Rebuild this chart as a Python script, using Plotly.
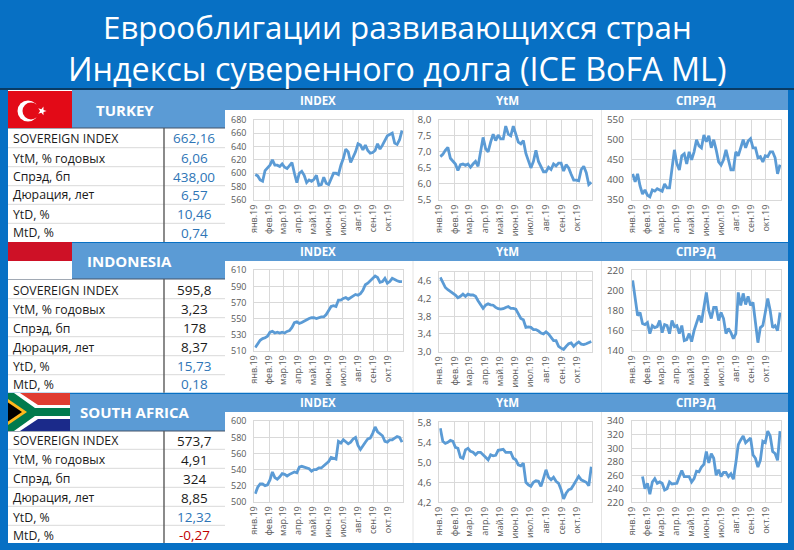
import math
import pandas as pd
import plotly.graph_objects as go

W, H = 794, 550
FONT = "Open Sans"
LINE = "#5b9bd5"
BAND = "#5b9bd5"
BG = "#0770c4"
GRID = "#d9d9d9"
TICK = "#595959"
VAL_BLUE = "#2e75b6"
RED = "#c00000"

dates = pd.date_range("2019-01-03", periods=61, freq="5D")
month_ticks = ["2019-%02d-01" % m for m in range(1, 11)]
month_labels = ["янв.19", "фев.19", "мар.19", "апр.19", "май.19", "июн.19", "июл.19", "авг.19", "сен.19", "окт.19"]

tr_index = [598,596,590,588,604,608,612,620,612,612,610,614,609,607,612,616,600,586,600,603,597,586,590,588,591,597,582,583,594,585,583,593,600,600,598,612,622,636,632,616,624,632,644,642,635,642,634,630,631,634,644,636,642,648,656,658,660,645,643,650,664]
tr_ytm = [6.85,6.92,7.05,7.14,6.8,6.7,6.62,6.42,6.6,6.62,6.58,6.62,6.52,6.62,6.7,6.55,7.0,7.45,7.1,7.0,7.3,7.55,7.35,7.52,7.4,7.4,7.8,7.55,7.5,7.8,7.55,7.3,7.25,7.35,6.95,6.7,6.5,6.7,7.05,6.7,6.55,6.38,6.38,6.52,6.45,6.62,6.56,6.65,6.65,6.4,6.6,6.5,6.3,6.12,6.12,6.1,6.45,6.55,6.35,5.98,6.05]
tr_spread = [415,395,415,385,365,375,362,358,375,372,378,375,372,390,380,380,435,475,440,425,460,465,440,470,450,470,500,485,480,512,495,510,480,500,475,445,437,450,475,450,425,425,470,460,480,500,480,497,503,480,480,455,458,445,460,458,470,470,455,415,438]
id_index = [514,518,523,525,526,528,533,534,532,533,532,533,532,534,535,539,545,546,544,545,547,549,550,551,551,550,551,552,552,555,560,565,566,565,573,573,575,576,574,576,578,580,579,581,585,592,594,597,601,603,601,595,596,600,594,596,600,598,597,596,595.8]
id_ytm = [4.68,4.55,4.45,4.4,4.36,4.33,4.28,4.22,4.25,4.3,4.25,4.3,4.28,4.28,4.25,4.15,4.05,3.98,4.05,4.08,4.06,4.05,4.0,3.97,3.96,3.97,4.0,4.02,3.98,3.98,3.96,3.85,3.75,3.72,3.55,3.56,3.55,3.5,3.5,3.47,3.42,3.4,3.45,3.4,3.32,3.25,3.25,3.12,3.08,3.05,3.12,3.18,3.2,3.12,3.18,3.22,3.17,3.16,3.18,3.2,3.23]
id_spread = [210,190,175,178,167,166,168,157,165,163,164,170,158,166,165,157,170,164,165,157,165,150,151,157,149,160,168,175,168,182,198,180,172,183,183,170,178,172,157,162,158,152,157,198,185,197,186,194,185,188,165,148,163,165,178,192,180,163,165,160,178]
za_index = [510,518,522,522,520,521,527,537,530,528,531,535,534,532,534,536,537,536,543,544,543,542,541,538,540,540,542,542,545,548,550,555,554,553,575,573,577,575,572,574,578,580,570,565,570,574,578,579,585,593,587,585,582,575,574,577,577,579,581,580,574]
za_ytm = [5.68,5.42,5.38,5.4,5.44,5.42,5.3,5.28,5.1,5.08,5.25,5.28,5.22,5.2,5.15,5.2,5.2,5.14,5.1,5.05,5.15,5.13,5.14,5.24,5.25,5.26,5.2,5.2,5.2,5.08,5.05,4.95,4.93,4.98,4.6,4.55,4.52,4.6,4.63,4.62,4.52,4.68,4.85,4.7,4.65,4.7,4.62,4.58,4.45,4.27,4.38,4.45,4.47,4.55,4.65,4.72,4.65,4.62,4.6,4.53,4.91]
za_spread = [None,None,None,None,258,240,248,232,250,255,248,250,248,238,240,250,247,247,248,258,267,258,258,258,250,255,266,265,272,276,295,278,292,285,260,268,258,264,264,258,262,254,278,305,312,318,308,312,315,290,285,272,282,310,308,325,318,295,292,282,325]

for s in (tr_index, tr_ytm, tr_spread, id_index, id_ytm, id_spread, za_index, za_ytm, za_spread):
    assert len(s) == 61, len(s)

ticks = [
    ([560,580,600,620,640,660,680], ["560","580","600","620","640","660","680"], [560,680]),
    ([5.5,6,6.5,7,7.5,8], ["5,5","6,0","6,5","7,0","7,5","8,0"], [5.5,8]),
    ([350,400,450,500,550], ["350","400","450","500","550"], [350,550]),
    ([510,530,550,570,590,610], ["510","530","550","570","590","610"], [510,610]),
    ([3.0,3.4,3.8,4.2,4.6], ["3,0","3,4","3,8","4,2","4,6"], [3.0,4.8]),
    ([140,160,180,200,220], ["140","160","180","200","220"], [140,220]),
    ([500,520,540,560,580,600], ["500","520","540","560","580","600"], [500,600]),
    ([4.2,4.6,5.0,5.4,5.8], ["4,2","4,6","5,0","5,4","5,8"], [4.2,5.8]),
    ([220,240,260,280,300,320,340], ["220","240","260","280","300","320","340"], [220,340]),
]
series = [tr_index, tr_ytm, tr_spread, id_index, id_ytm, id_spread, za_index, za_ytm, za_spread]
boxes = [
    (254.3,403,119.7,200), (439.3,592.3,119.7,200), (631.7,781,119.7,200),
    (254.3,403,270.3,350.7), (439.3,592.3,272,351.7), (631.7,781,270.3,350.7),
    (254.3,403,421.3,501.7), (439.3,592.3,422.3,502.3), (631.7,781,421,502.3),
]

def px(x): return x / W
def py(y): return 1 - y / H

fig = go.Figure()
layout = {}
for i, (vals, tk, box) in enumerate(zip(series, ticks, boxes), start=1):
    fig.add_trace(go.Scatter(x=dates, y=vals, mode="lines", line=dict(color=LINE, width=2.8),
                             xaxis=f"x{i}", yaxis=f"y{i}", showlegend=False, hoverinfo="skip", connectgaps=False))
    l, r, t, b = box
    fs = 9 if (i - 1) % 3 == 0 else 9.8
    layout[f"xaxis{i}"] = dict(domain=[px(l), px(r)], type="date", range=["2019-01-01", "2019-11-01"],
                               tickvals=month_ticks, ticktext=month_labels, tickangle=-90, automargin=False,
                               tickfont=dict(family=FONT, size=9, color=TICK), ticks="",
                               showgrid=True, gridcolor=GRID, gridwidth=1, showline=True, linecolor=GRID, mirror=True,
                               zeroline=False, anchor=f"y{i}", fixedrange=True)
    layout[f"yaxis{i}"] = dict(domain=[py(b), py(t)], range=tk[2], tickvals=tk[0], ticktext=tk[1], automargin=False,
                               tickfont=dict(family=FONT, size=fs, color=TICK), ticks="", ticklabelstandoff=5,
                               showgrid=True, gridcolor=GRID, gridwidth=1, zeroline=False, showline=True,
                               linecolor=GRID, mirror=True, anchor=f"x{i}", fixedrange=True)

shapes = []
def rect(x0, y0, x1, y1, color):
    shapes.append(dict(type="rect", xref="paper", yref="paper", x0=px(x0), x1=px(x1), y0=py(y0), y1=py(y1),
                       fillcolor=color, line_width=0, layer="below"))
def hline(x0, x1, y, color, w=1):
    shapes.append(dict(type="line", xref="paper", yref="paper", x0=px(x0), x1=px(x1), y0=py(y), y1=py(y),
                       line=dict(color=color, width=w), layer="below"))
def vline(x, y0, y1, color, w=1):
    shapes.append(dict(type="line", xref="paper", yref="paper", x0=px(x), x1=px(x), y0=py(y0), y1=py(y1),
                       line=dict(color=color, width=w), layer="below"))
def poly(points, color):
    d = "M " + " L ".join(f"{px(x):.5f},{py(y):.5f}" for x, y in points) + " Z"
    shapes.append(dict(type="path", xref="paper", yref="paper", path=d, fillcolor=color, line_width=0, layer="below"))
def circle(cx, cy, r, color):
    shapes.append(dict(type="circle", xref="paper", yref="paper", x0=px(cx-r), x1=px(cx+r), y0=py(cy+r), y1=py(cy-r),
                       fillcolor=color, line_width=0, layer="below"))

hline(0, W, 89, "#0b2a45", 1.5)

anns = []
def text(x, y, s, size, color, bold=False, anchor="center"):
    anns.append(dict(xref="paper", yref="paper", x=px(x), y=py(y), text=f"<b>{s}</b>" if bold else s,
                     showarrow=False, xanchor=anchor, yanchor="middle",
                     font=dict(family=FONT, size=size, color=color)))

text(397, 27, "Еврооблигации развивающихся стран", 31.3, "white")
text(396.5, 68, "Индексы суверенного долга (ICE BoFA ML)", 32.3, "white")

metrics = ["SOVEREIGN INDEX", "YtM, % годовых", "Спрэд, бп", "Дюрация, лет", "YtD, %", "MtD, %"]
rows = [
    dict(name="TURKEY", nx=125, ny=110, bt=90, bb=110, cb=128, cell=72, tb=242, hy=100.7,
         vals=["662,16","6,06","438,00","6,57","10,46","0,74"], cols=[VAL_BLUE]*6,
         cy=[138.3,158,177,195,214,233], div=[147.7,166.7,185.7,204.3,223.3]),
    dict(name="INDONESIA", nx=129, ny=261, bt=243, bb=261, cb=279, cell=72, tb=392.7, hy=251.7,
         vals=["595,8","3,23","178","8,37","15,73","0,18"], cols=["#1a1a1a"]*4+[VAL_BLUE]*2,
         cy=[290,309,328,347,366,384], div=[298.7,317.7,336.7,355.7,374.7]),
    dict(name="SOUTH AFRICA", nx=135, ny=411.7, bt=394, bb=412, cb=431, cell=70, tb=543, hy=402.7,
         vals=["573,7","4,91","324","8,85","12,32","-0,27"], cols=["#1a1a1a"]*4+[VAL_BLUE, RED],
         cy=[441,460,479,498,517,535], div=[449.3,468.3,487.3,506.3,525.3]),
]
for r in rows:
    rect(8, r["bt"], 788, r["tb"], "white")
    rect(r["cell"], r["bt"], 788, r["bb"], BAND)
    rect(r["cell"], r["bt"], 225, r["cb"], BAND)
    for d in r["div"]:
        hline(8, 225, d, GRID)
    hline(8, 225, r["cb"], "#44546a", 1.2)
    vline(164, r["cb"], r["tb"], "#595959", 1.4)
    vline(413, r["bb"], r["tb"], "#e4e4e4", 1)
    vline(601.5, r["bb"], r["tb"], "#e4e4e4", 1)
    text(r["nx"], r["ny"], r["name"], 15, "white", bold=True)
    for hx, ht in ((318, "INDEX"), (507, "YtM"), (696, "СПРЭД")):
        text(hx, r["hy"], ht, 11.5, "white", bold=True)
    for m, v, c, y in zip(metrics, r["vals"], r["cols"], r["cy"]):
        text(10.5, y, m, 12.3, "#1a1a1a", anchor="left")
        text(194, y, v, 13.5, c)

rect(8, 91, 72, 128, "#e30a17")
circle(28, 111, 10.5, "white")
circle(31, 111, 8.5, "#e30a17")
cx, cy = 42, 111
poly([(cx + (4.6 if k % 2 == 0 else 1.9) * math.cos(math.radians(36 * k)),
       cy + (4.6 if k % 2 == 0 else 1.9) * math.sin(math.radians(36 * k))) for k in range(10)], "white")

rect(8, 242, 72, 261, "#ce1126")
rect(8, 261, 72, 279, "white")

rect(8, 393, 70, 412, "#e03c31")
rect(8, 412, 70, 431, "#1b2a8a")
poly([(8,393),(20,393),(38,405),(70,405),(70,419),(38,419),(20,431),(8,431)], "white")
poly([(8,393),(14,393),(35,408),(70,408),(70,416),(35,416),(14,431),(8,431)], "#007a4d")
poly([(8,399),(27,412),(8,425)], "#ffb81c")
poly([(8,402.5),(22,412),(8,421.5)], "black")

fig.update_layout(width=W, height=H, margin=dict(l=0, r=0, t=0, b=0, autoexpand=False), paper_bgcolor=BG,
                  plot_bgcolor="white", showlegend=False, shapes=shapes, annotations=anns, **layout)
fig.write_html("out.html", post_script="document.body.style.margin='0';document.body.style.overflow='hidden';",
               config=dict(displayModeBar=False))
